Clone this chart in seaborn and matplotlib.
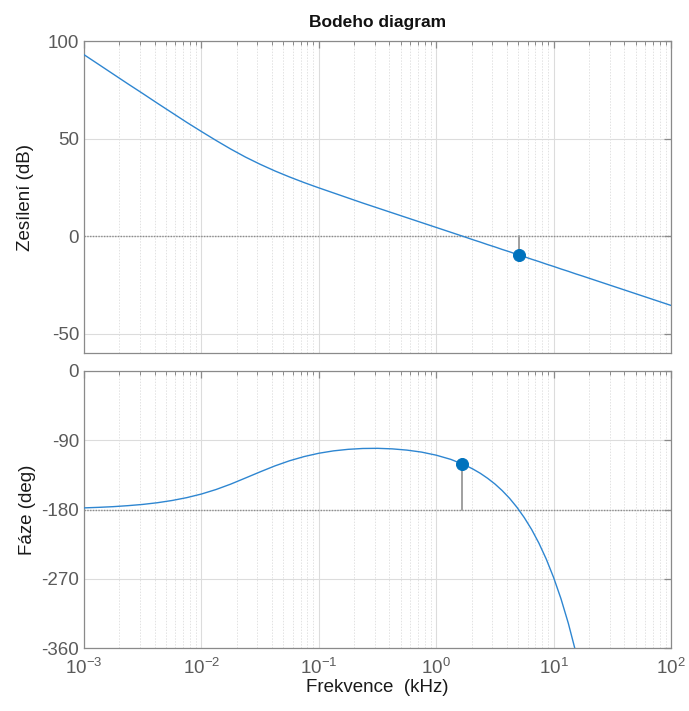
import numpy as np
import pandas as pd
import matplotlib
matplotlib.use("Agg")
import matplotlib.pyplot as plt
from matplotlib.ticker import LogLocator, LogFormatterMathtext, NullFormatter
import seaborn as sns

# Open-loop frequency response (frequency in kHz)
freq_khz = [0.001, 0.001334, 0.001778, 0.002371, 0.003162, 0.004217, 0.005623, 0.007499,
            0.01, 0.01334, 0.01778, 0.02371, 0.03162, 0.04217, 0.05623, 0.07499,
            0.1, 0.1334, 0.1778, 0.2371, 0.3162, 0.4217, 0.5623, 0.7499,
            1.0, 1.334, 1.778, 2.054, 2.371, 2.738, 3.162, 3.652, 4.217, 4.870,
            5.623, 6.494, 7.499, 8.660, 10.0, 11.55, 13.34, 15.40, 17.78,
            23.71, 31.62, 42.17, 56.23, 74.99, 100.0]
magnitude_db = [93.0, 88.0, 83.0, 78.0, 73.1, 68.1, 63.2, 58.3,
                53.6, 49.0, 44.6, 40.5, 36.8, 33.4, 30.3, 27.4,
                24.7, 22.1, 19.5, 16.9, 14.4, 11.9, 9.4, 6.9,
                4.4, 1.9, -0.6, -1.9, -3.1, -4.4, -5.6, -6.9, -8.1, -9.4,
                -10.6, -11.9, -13.1, -14.4, -15.6, -16.9, -18.1, -19.4, -20.6,
                -23.1, -25.6, -28.1, -30.6, -33.1, -35.6]
phase_deg = [-177.9, -177.2, -176.3, -175.0, -173.4, -171.2, -168.3, -164.6,
             -159.9, -154.0, -147.0, -139.1, -131.1, -123.4, -116.7, -111.2,
             -106.9, -103.8, -101.8, -100.7, -100.5, -101.2, -102.8, -105.4,
             -109.4, -114.9, -122.6, -127.4, -132.9, -139.4, -146.8, -155.5, -165.5, -177.1,
             -190.5, -205.9, -223.8, -244.5, -268.4, -295.9, -327.8, -364.5, -407.0,
             np.nan, np.nan, np.nan, np.nan, np.nan, np.nan]

# Stability margins
gm_freq_khz = 5.03      # phase crossover frequency
gm_mag_db = -9.7        # magnitude there
pm_freq_khz = 1.65      # gain crossover frequency
pm_phase_deg = -120.4   # phase there

mag_ticks = [-50, 0, 50, 100]
phase_ticks = [-360, -270, -180, -90, 0]

df = pd.DataFrame({"f": freq_khz, "mag": magnitude_db, "phase": phase_deg})

sns.set_theme(style="white")
plt.rcParams["font.family"] = ["Liberation Sans", "DejaVu Sans"]
plt.rcParams["mathtext.default"] = "regular"
plt.rcParams["axes.unicode_minus"] = False

LINE_C = "#2e86d1"
MARK_C = "#0072BD"
TICK_C = "#5a5a5a"
SPINE_C = "#8a8a8a"

fig = plt.figure(figsize=(6.89, 7.11), dpi=100)
ax1 = fig.add_axes([0.1219, 0.5035, 0.852, 0.4388])
ax2 = fig.add_axes([0.1219, 0.0886, 0.852, 0.3896])


def style_axis(ax, yticks, ylim):
    ax.set_xscale("log")
    ax.set_xlim(1e-3, 1e2)
    ax.set_ylim(*ylim)
    ax.set_yticks(yticks)
    ax.xaxis.set_major_locator(LogLocator(base=10, numticks=20))
    ax.xaxis.set_minor_locator(LogLocator(base=10, subs=np.arange(2, 10), numticks=100))
    ax.xaxis.set_minor_formatter(NullFormatter())
    ax.grid(True, which="major", color="#dcdcdc", lw=0.8, ls="-")
    ax.grid(True, which="minor", axis="x", color="#e2e2e2", lw=0.7, ls=(0, (1.5, 1.5)))
    ax.set_axisbelow(True)
    for s in ax.spines.values():
        s.set_color(SPINE_C)
        s.set_linewidth(0.9)
    ax.tick_params(which="both", direction="in", top=True, right=True,
                   colors=SPINE_C, labelcolor=TICK_C, labelsize=13.5)
    ax.tick_params(which="major", length=5, width=0.9)
    ax.tick_params(which="minor", length=3, width=0.7)


style_axis(ax1, mag_ticks, (-60, 100))
style_axis(ax2, phase_ticks, (-360, 0))

# Magnitude
ax1.axhline(0, color="#8c8c8c", lw=1.0, ls=(0, (1, 1)), zorder=2)
ax1.plot([gm_freq_khz, gm_freq_khz], [0, gm_mag_db], color="#a0a0a0", lw=1.4, zorder=3)
sns.lineplot(data=df, x="f", y="mag", ax=ax1, color=LINE_C, lw=1.0, zorder=4)
sns.scatterplot(x=[gm_freq_khz], y=[gm_mag_db], ax=ax1, color=MARK_C, s=75,
                edgecolor=MARK_C, zorder=5)
ax1.set_xlabel("")
ax1.tick_params(labelbottom=False)
ax1.set_ylabel("Zesílení (dB)", fontsize=13.5, color="#1a1a1a", labelpad=10)
ax1.set_title("Bodeho diagram", fontsize=12.5, fontweight="bold", color="#111111", pad=10)

# Phase
ax2.axhline(-180, color="#8c8c8c", lw=1.0, ls=(0, (1, 1)), zorder=2)
ax2.plot([pm_freq_khz, pm_freq_khz], [-180, pm_phase_deg], color="#a0a0a0", lw=1.4, zorder=3)
sns.lineplot(data=df, x="f", y="phase", ax=ax2, color=LINE_C, lw=1.0, zorder=4)
sns.scatterplot(x=[pm_freq_khz], y=[pm_phase_deg], ax=ax2, color=MARK_C, s=75,
                edgecolor=MARK_C, zorder=5)
ax2.xaxis.set_major_formatter(LogFormatterMathtext())
ax2.set_ylabel("Fáze (deg)", fontsize=13.5, color="#1a1a1a", labelpad=4)
ax2.set_xlabel("Frekvence  (kHz)", fontsize=13.5, color="#1a1a1a", labelpad=1)
ax2.tick_params(axis="x", pad=7)

fig.savefig("out.png", dpi=100)
